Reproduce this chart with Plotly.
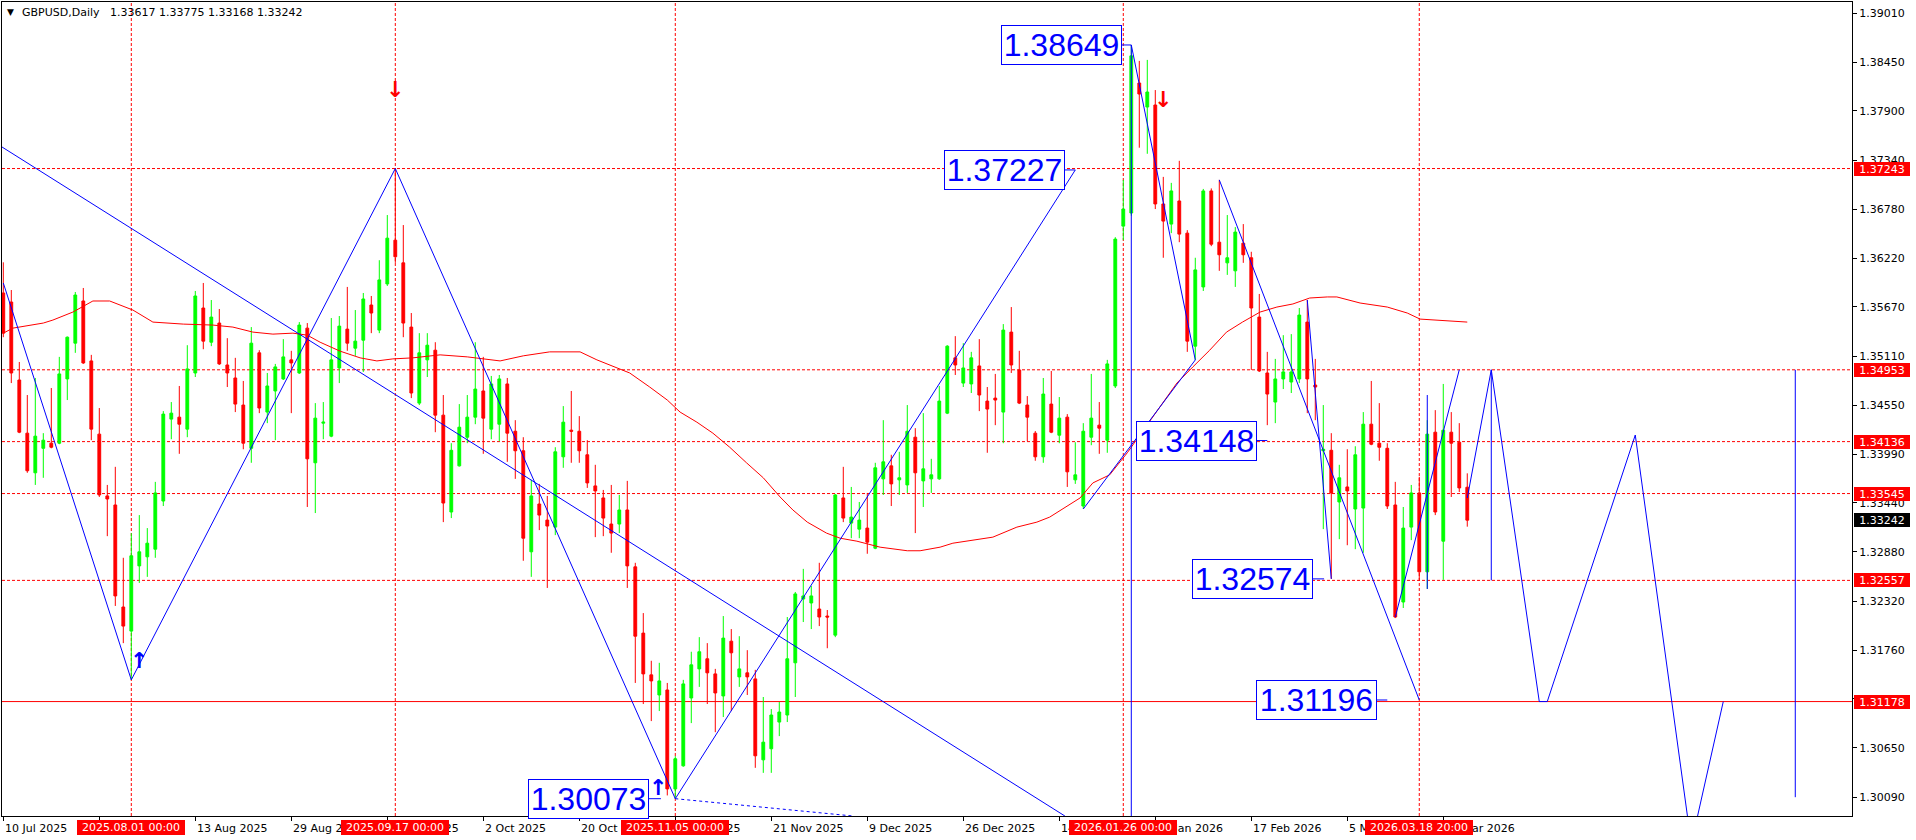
import plotly.graph_objects as go

# ---------------- data (daily GBPUSD bars, bar 0 = 10 Jul 2025) ----------------
opens = [1.35827,1.35724,1.34837,1.34232,1.33781,1.34060,1.34118,1.34118,1.34849,1.35256,
         1.35736,1.35054,1.34221,1.33518,1.33415,1.32254,1.31980,1.32722,1.32825,1.32912,
         1.33460,1.34392,1.34414,1.34278,1.34917,1.35656,1.35267,1.35485,1.35008,1.34860,
         1.34552,1.34060,1.35146,1.34472,1.34712,1.34849,1.35066,1.34917,1.35427,1.33895,
         1.34346,1.34198,1.34974,1.35416,1.35199,1.35290,1.35690,1.35405,1.35930,1.36428,
         1.36170,1.35439,1.34574,1.35066,1.35176,1.34437,1.33335,1.33860,1.34186,1.34414,
         1.34712,1.34278,1.34334,1.34792,1.34254,1.34032,1.32882,1.33426,1.33243,1.33163,
         1.33963,1.34266,1.34254,1.33986,1.33632,1.33495,1.33198,1.33198,1.33358,1.32711,
         1.31957,1.31482,1.31253,1.31310,1.30184,1.30447,1.31219,1.31550,1.31665,1.31493,
         1.31242,1.31865,1.31459,1.31505,1.31436,1.30515,1.30641,1.30945,1.31025,1.31619,
         1.32345,1.32300,1.32231,1.32151,1.31934,1.33495,1.33209,1.33140,1.33152,1.32923,
         1.33712,1.33860,1.33701,1.33643,1.34186,1.33689,1.33712,1.33712,1.34460,1.35089,
         1.34802,1.34792,1.34997,1.34597,1.34631,1.34472,1.35382,1.34951,1.34552,1.34232,
         1.33963,1.34563,1.34209,1.34414,1.33701,1.33403,1.34186,1.34323,1.34152,1.34769,
         1.36588,1.36737,1.38216,1.37943,1.37966,1.36840,1.36611,1.36874,1.36508,1.35222,
         1.35896,1.36988,1.36405,1.36170,1.36079,1.36394,1.36228,1.35553,1.34917,1.34586,
         1.34849,1.34814,1.34849,1.35496,1.34780,1.34032,1.34037,1.33449,1.33620,1.33369,
         1.33380,1.34334,1.34118,1.34060,1.33415,1.32311,1.33163,1.33552,1.32654,1.34243,
         1.33003,1.34243,1.34129,1.33617]
highs = [1.36176,1.35861,1.35042,1.34666,1.34860,1.34232,1.34746,1.35100,1.35332,1.35838,
         1.35884,1.35123,1.34518,1.33643,1.33849,1.32814,1.33095,1.33300,1.33152,1.33678,
         1.34483,1.34586,1.34769,1.35233,1.35850,1.35941,1.35747,1.35645,1.35313,1.35089,
         1.34826,1.35439,1.35176,1.34917,1.35020,1.35302,1.35169,1.35496,1.35485,1.34574,
         1.34586,1.35542,1.35565,1.35896,1.35633,1.35827,1.35793,1.36200,1.36714,1.37243,
         1.36600,1.35599,1.35370,1.35370,1.35267,1.34666,1.34118,1.34563,1.34666,1.35267,
         1.35100,1.34883,1.34894,1.34860,1.34380,1.34186,1.33701,1.33655,1.33518,1.34072,
         1.34540,1.34712,1.34426,1.34152,1.33872,1.33586,1.33643,1.33529,1.33689,1.32757,
         1.32185,1.31642,1.31619,1.31390,1.30557,1.31425,1.31745,1.31911,1.31843,1.31550,
         1.32151,1.32003,1.31922,1.31763,1.31539,1.31230,1.31093,1.31173,1.32140,1.32425,
         1.32688,1.32494,1.32757,1.32220,1.33540,1.33849,1.33620,1.33449,1.33552,1.33895,
         1.34380,1.33986,1.34020,1.34552,1.34289,1.34460,1.33940,1.34769,1.35233,1.35336,
         1.35256,1.35157,1.35302,1.34757,1.34906,1.35473,1.35667,1.35169,1.34654,1.34256,
         1.34860,1.34940,1.34643,1.34449,1.34129,1.34346,1.34906,1.34586,1.35066,1.36462,
         1.37114,1.38649,1.38468,1.38479,1.38136,1.37148,1.37080,1.37331,1.36542,1.36228,
         1.37011,1.37017,1.37114,1.36714,1.36577,1.36611,1.36296,1.35816,1.35157,1.35077,
         1.35347,1.35359,1.35656,1.35747,1.35077,1.34552,1.34232,1.33872,1.34049,1.34083,
         1.34472,1.34826,1.34574,1.34118,1.33678,1.33392,1.33643,1.33735,1.34380,1.34494,
         1.34792,1.34472,1.34346,1.33775]
lows = [1.35324,1.34802,1.34232,1.33781,1.33643,1.33724,1.34060,1.34106,1.34609,1.35146,
        1.35020,1.34152,1.33506,1.33060,1.32266,1.31843,1.31425,1.32528,1.32597,1.32814,
        1.33403,1.34163,1.33997,1.34186,1.34871,1.35187,1.35222,1.35008,1.34757,1.34472,
        1.34049,1.33895,1.34460,1.34346,1.34152,1.34837,1.34460,1.34906,1.33392,1.33323,
        1.34163,1.34186,1.34802,1.35169,1.35112,1.34929,1.35370,1.35370,1.35907,1.36170,
        1.35324,1.34631,1.34552,1.34871,1.34243,1.33220,1.33266,1.33852,1.34118,1.34334,
        1.33997,1.34163,1.34140,1.33906,1.33712,1.32780,1.32597,1.33129,1.32471,1.33072,
        1.33838,1.33895,1.33895,1.33609,1.33049,1.33060,1.32871,1.33095,1.32471,1.31390,
        1.31150,1.30956,1.31070,1.30110,1.30073,1.30436,1.30933,1.31345,1.31150,1.30830,
        1.31002,1.31070,1.31345,1.31253,1.30424,1.30367,1.30367,1.30785,1.30945,1.31230,
        1.32083,1.32003,1.32037,1.31785,1.31911,1.33220,1.33037,1.33037,1.32860,1.32912,
        1.33529,1.33403,1.33529,1.33552,1.33095,1.33392,1.33552,1.33701,1.34449,1.34894,
        1.34757,1.34689,1.34483,1.34009,1.34323,1.34118,1.34917,1.34563,1.34140,1.33918,
        1.33895,1.34232,1.34118,1.33620,1.33655,1.33369,1.34095,1.33997,1.34009,1.34746,
        1.36428,1.36707,1.37480,1.37411,1.36782,1.36228,1.36508,1.36405,1.35157,1.35065,
        1.35850,1.36360,1.36079,1.36033,1.35896,1.36170,1.34951,1.34929,1.34323,1.34346,
        1.34734,1.34689,1.34802,1.34460,1.34380,1.33140,1.32574,1.33026,1.32957,1.32912,
        1.32871,1.34095,1.33918,1.33369,1.32128,1.32243,1.33015,1.32563,1.32460,1.33300,
        1.32563,1.33506,1.33563,1.33168]
closes = [1.35370,1.34917,1.34243,1.33804,1.34198,1.34152,1.34072,1.34906,1.35324,1.35804,
          1.35031,1.34278,1.33529,1.33483,1.32380,1.32037,1.32837,1.32882,1.32980,1.33552,
          1.34449,1.34460,1.34334,1.34963,1.35793,1.35279,1.35553,1.35020,1.34917,1.34563,
          1.34118,1.35256,1.34518,1.34769,1.34986,1.35100,1.35031,1.35462,1.33940,1.34403,
          1.34357,1.35066,1.35450,1.35256,1.35279,1.35759,1.35599,1.35976,1.36451,1.36239,
          1.35485,1.34689,1.35146,1.35233,1.34437,1.33437,1.34037,1.34300,1.34414,1.34734,
          1.34403,1.34792,1.34849,1.34232,1.34032,1.33037,1.33518,1.33300,1.33175,1.34020,
          1.34357,1.34254,1.34032,1.33666,1.33575,1.33266,1.33095,1.33358,1.32722,1.31922,
          1.31493,1.31413,1.31413,1.30184,1.30527,1.31379,1.31596,1.31745,1.31505,1.31276,
          1.31900,1.31733,1.31550,1.31459,1.30561,1.30716,1.31025,1.31059,1.31665,1.32403,
          1.32380,1.32380,1.32140,1.32140,1.33529,1.33266,1.33277,1.33243,1.32992,1.33838,
          1.33906,1.33655,1.33724,1.34254,1.33781,1.33826,1.33758,1.34597,1.35222,1.35008,
          1.34974,1.35089,1.34666,1.34506,1.34609,1.35405,1.35008,1.34574,1.34414,1.33963,
          1.34677,1.34243,1.34403,1.33792,1.33758,1.34254,1.34403,1.34289,1.35020,1.36440,
          1.36782,1.38525,1.38091,1.38114,1.36840,1.36645,1.36988,1.36497,1.35279,1.36090,
          1.36988,1.36382,1.36262,1.36228,1.36520,1.36262,1.35656,1.34940,1.34677,1.34849,
          1.34929,1.34929,1.35576,1.34849,1.34757,1.34049,1.33552,1.33724,1.33575,1.33986,
          1.34334,1.34106,1.34072,1.33403,1.32140,1.33152,1.33552,1.32654,1.34221,1.33335,
          1.34266,1.34118,1.33609,1.33242]
bar_index = list(range(len(opens)))

x_tick_pos = [0, 12, 24, 36, 48, 60, 72, 84, 96, 108, 120, 132, 144, 156, 168, 180]
x_tick_labels = ["10 Jul 2025", "28 Jul 2025", "13 Aug 2025", "29 Aug 2025", "16 Sep 2025",
                 "2 Oct 2025", "20 Oct 2025", "5 Nov 2025", "21 Nov 2025", "9 Dec 2025",
                 "26 Dec 2025", "14 Jan 2026", "30 Jan 2026", "17 Feb 2026", "5 Mar 2026",
                 "23 Mar 2026"]
y_tick_vals = [1.39010, 1.38450, 1.37900, 1.37340, 1.36780, 1.36220, 1.35670, 1.35110,
               1.34550, 1.33990, 1.33440, 1.32880, 1.32320, 1.31760, 1.31210, 1.30650, 1.30090]

# moving average (red)
ma_x = [0,1.2,5,6.2,8.7,11.2,13.3,16.2,18.7,22.5,26.2,28.7,31.2,33.7,36.2,38,39.6,42.1,44.6,46.7,
        48.7,51.2,54.6,58,62.1,65,68.3,72.1,74.2,76.7,78.3,80.8,83,84.6,86.7,88.7,90.8,92.9,95,97.1,
        98.7,100.5,102.9,104.6,106.7,109.6,113,114.6,117.1,118.7,122.1,123.7,126.7,129.2,130.8,132.9,
        134.6,136.2,138.3,140.5,142.5,144.6,146.7,148.7,150.8,152.9,154.9,157.1,159.2,161.2,163.3,
        165.5,166.7,169.6,173,175.5,177.1,183]
ma_y = [1.35370,1.35427,1.35485,1.35519,1.35610,1.35736,1.35736,1.35633,1.35496,1.35473,
        1.35462,1.35439,1.35382,1.35359,1.35370,1.35347,1.35267,1.35165,1.35089,1.35054,
        1.35077,1.35089,1.35123,1.35100,1.35054,1.35112,1.35157,1.35157,1.35066,1.34974,
        1.34917,1.34757,1.34609,1.34472,1.34357,1.34232,1.34072,1.33895,1.33724,1.33506,
        1.33358,1.33220,1.33095,1.33037,1.33003,1.32935,1.32894,1.32894,1.32935,1.32980,
        1.33026,1.33049,1.33163,1.33220,1.33277,1.33392,1.33495,1.33666,1.33758,1.34009,
        1.34266,1.34529,1.34802,1.34986,1.35176,1.35382,1.35496,1.35610,1.35667,1.35702,
        1.35770,1.35782,1.35782,1.35713,1.35667,1.35599,1.35530,1.35496]

# blue zigzag / projection lines (bar index, price)
long_line_x = [-0.16, 132.7]
long_line_y = [1.37488, 1.29876]
zz_main_x = [0, 16, 49, 84, 134]
zz_main_y = [1.35941, 1.31425, 1.37243, 1.30073, 1.37227]
dotted_x = [84, 106.2]
dotted_y = [1.30073, 1.29876]
v_x = [135, 149, 141]
v_y = [1.33369, 1.35065, 1.38649]
b_x = [152, 177]
b_y = [1.37114, 1.31196]
c_x = [163, 166]
c_y = [1.35747, 1.32574]
d_x = [174, 182]
d_y = [1.32140, 1.34953]
proj_x = [183, 186, 192, 193, 204, 211, 215]
proj_y = [1.33494, 1.34953, 1.31178, 1.31178, 1.34211, 1.29557, 1.31178]
vert_x = [141, 178, 186, 224]
vert_top = [1.38649, 1.34666, 1.34953, 1.34953]
vert_bottom = [1.29000, 1.32459, 1.32557, 1.30090]

# price labels (text, right edge bar, price, connector end bar)
label_text = ["1.38649", "1.37227", "1.30073", "1.34148", "1.32574", "1.31196"]
label_right = [139.8, 132.7, 80.7, 156.7, 163.7, 171.7]
label_price = [1.38649, 1.37227, 1.30073, 1.34148, 1.32574, 1.31196]
label_tick_end = [141.0, 134.0, 82.2, 158.0, 165.1, 173.0]

dashed_levels = [1.37243, 1.34953, 1.34136, 1.33545, 1.32557]
solid_levels = [1.31178]
vline_bars = [16, 49, 84, 140, 177]
vline_labels = ["2025.08.01 00:00", "2025.09.17 00:00", "2025.11.05 00:00",
                "2026.01.26 00:00", "2026.03.18 20:00"]
down_arrows_x = [49, 145]
down_arrows_y = [1.38137, 1.38023]
up_arrows_x = [16.9, 81.9]
up_arrows_y = [1.31651, 1.30206]
last_price = 1.33242

BLUE = "#0000FF"
RED = "#FF0000"
GREEN = "#00FF00"

fig = go.Figure()
fig.add_trace(go.Candlestick(
    x=bar_index, open=opens, high=highs, low=lows, close=closes,
    increasing=dict(line=dict(color=GREEN, width=1), fillcolor=GREEN),
    decreasing=dict(line=dict(color=RED, width=1), fillcolor=RED),
    whiskerwidth=0, hoverinfo="skip"))

fig.add_trace(go.Scatter(x=ma_x, y=ma_y, mode="lines", line=dict(color=RED, width=1)))

def blue_line(xs, ys, dash="solid"):
    fig.add_trace(go.Scatter(x=xs, y=ys, mode="lines",
                             line=dict(color=BLUE, width=1, dash=dash)))

blue_line(long_line_x, long_line_y)
blue_line(zz_main_x, zz_main_y)
blue_line(dotted_x, dotted_y, dash="3px,3px")
blue_line(v_x, v_y)
blue_line(b_x, b_y)
blue_line(c_x, c_y)
blue_line(d_x, d_y)
blue_line(proj_x, proj_y)
for vx, vt, vb in zip(vert_x, vert_top, vert_bottom):
    blue_line([vx, vx], [vt, vb])
for t, xr, p, xe in zip(label_text, label_right, label_price, label_tick_end):
    blue_line([xr, xe], [p, p])

shapes = []
for lv in dashed_levels:
    shapes.append(dict(type="line", xref="paper", yref="y", x0=0, x1=1, y0=lv, y1=lv,
                       line=dict(color=RED, width=1, dash="3px,2px"), layer="below"))
for lv in solid_levels:
    shapes.append(dict(type="line", xref="paper", yref="y", x0=0, x1=1, y0=lv, y1=lv,
                       line=dict(color=RED, width=1), layer="below"))
for vb in vline_bars:
    shapes.append(dict(type="line", xref="x", yref="paper", x0=vb, x1=vb, y0=0, y1=1,
                       line=dict(color=RED, width=1, dash="3px,2px"), layer="below"))

ann = []
# x-axis date labels
for xp, lab in zip(x_tick_pos, x_tick_labels):
    ann.append(dict(x=xp, xref="x", y=0, yref="paper", text=lab, showarrow=False,
                    xanchor="left", yanchor="top", xshift=0, yshift=-4,
                    font=dict(family="DejaVu Sans", size=11, color="black")))
# vertical-line time labels
for vb, lab in zip(vline_bars, vline_labels):
    ann.append(dict(x=vb, xref="x", y=0, yref="paper", text=lab, showarrow=False,
                    xanchor="center", yanchor="top", yshift=-4,
                    bgcolor=RED, bordercolor=RED, borderwidth=1, borderpad=1,
                    width=104, height=11,
                    font=dict(family="DejaVu Sans", size=11, color="white")))
# right-axis price labels
for lv in dashed_levels + solid_levels:
    ann.append(dict(x=1, xref="paper", y=lv, yref="y", text=f"{lv:.5f}", showarrow=False,
                    xanchor="left", yanchor="middle", xshift=2,
                    bgcolor=RED, bordercolor=RED, borderwidth=1, borderpad=0,
                    width=54, height=12,
                    font=dict(family="DejaVu Sans", size=11, color="white")))
ann.append(dict(x=1, xref="paper", y=last_price, yref="y", text=f"{last_price:.5f}",
                showarrow=False, xanchor="left", yanchor="middle", xshift=2,
                bgcolor="black", bordercolor="black", borderwidth=1, borderpad=0,
                width=54, height=12,
                font=dict(family="DejaVu Sans", size=11, color="white")))
# blue boxed labels
for t, xr, p in zip(label_text, label_right, label_price):
    ann.append(dict(x=xr, xref="x", y=p, yref="y", text=t, showarrow=False,
                    xanchor="right", yanchor="middle",
                    bgcolor="white", bordercolor=BLUE, borderwidth=1, borderpad=1,
                    width=117, height=36,
                    font=dict(family="Liberation Sans", size=32, color=BLUE)))
# arrows
for ax_, ay_ in zip(down_arrows_x, down_arrows_y):
    ann.append(dict(x=ax_, xref="x", y=ay_, yref="y", text="<b>↓</b>", showarrow=False,
                    font=dict(family="DejaVu Sans", size=22, color=RED)))
for ax_, ay_ in zip(up_arrows_x, up_arrows_y):
    ann.append(dict(x=ax_, xref="x", y=ay_, yref="y", text="<b>↑</b>", showarrow=False,
                    font=dict(family="DejaVu Sans", size=22, color=BLUE)))
# header
ann.append(dict(x=0, xref="paper", y=1, yref="paper", text="▼", showarrow=False,
                xanchor="left", yanchor="middle", xshift=3, yshift=-10,
                font=dict(family="DejaVu Sans", size=9, color="black")))
ann.append(dict(x=0, xref="paper", y=1, yref="paper",
                text="GBPUSD,Daily\u00a0\u00a0 1.33617 1.33775 1.33168 1.33242", showarrow=False,
                xanchor="left", yanchor="middle", xshift=18, yshift=-10,
                font=dict(family="DejaVu Sans", size=11, color="black")))

fig.update_layout(
    width=1916, height=840,
    margin=dict(l=2, r=64, t=2, b=24),
    paper_bgcolor="white", plot_bgcolor="white",
    showlegend=False, boxgap=0.5,
    font=dict(family="DejaVu Sans", size=11, color="black"),
    shapes=shapes, annotations=ann,
    xaxis=dict(range=[-0.1625, 231.09], showgrid=False, zeroline=False,
               showline=True, linecolor="black", linewidth=1, mirror=True,
               tickvals=x_tick_pos, ticks="outside", ticklen=4, tickcolor="black",
               showticklabels=False, rangeslider=dict(visible=False)),
    yaxis=dict(range=[1.29876, 1.39138], side="right", showgrid=False, zeroline=False,
               showline=True, linecolor="black", linewidth=1, mirror=True,
               tickvals=y_tick_vals, ticktext=[f"{v:.5f}" for v in y_tick_vals],
               ticks="outside", ticklen=4, tickcolor="black",
               tickfont=dict(family="DejaVu Sans", size=11, color="black")),
)

fig.write_html("out.html", config={"displayModeBar": False},
               post_script="document.body.style.margin='0px';document.body.style.overflow='hidden';")
